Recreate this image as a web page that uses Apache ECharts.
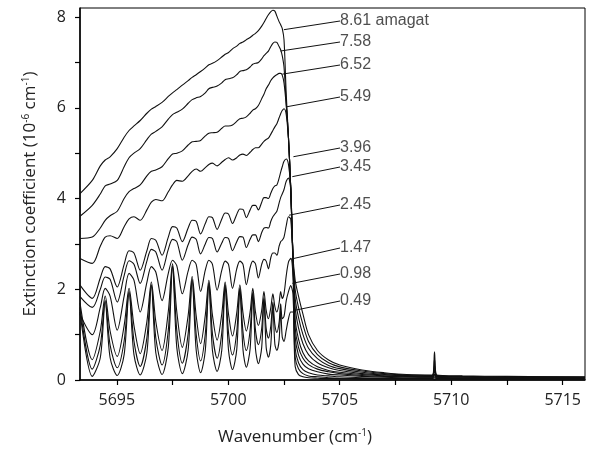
<!DOCTYPE html>
<html><head><meta charset="utf-8">
<script src="https://cdn.jsdelivr.net/npm/echarts@6/dist/echarts.min.js"></script>
<style>html,body{margin:0;padding:0;background:#fff}#c{width:590px;height:449px}</style>
</head><body><div id="c"></div>
<script>
// Wavenumber sample positions (cm-1), shared by all curves
const WAVENUMBER = [5693.35,
5693.9, 5694.26, 5694.48, 5694.70,
5695.02, 5695.33, 5695.55, 5695.77,
5696.05, 5696.35, 5696.55, 5696.75,
5697.03, 5697.31, 5697.5, 5697.69,
5697.94, 5698.2, 5698.38, 5698.56,
5698.76, 5698.97, 5699.13, 5699.29,
5699.5, 5699.71, 5699.86, 5700.01,
5700.19, 5700.38, 5700.52, 5700.66,
5700.81, 5700.98, 5701.1, 5701.22,
5701.35, 5701.5, 5701.6, 5701.7,
5701.8, 5701.91, 5702.0, 5702.09,
5702.18, 5702.28, 5702.35, 5702.42,
5702.5, 5702.6, 5702.7, 5702.8, 5702.9,
5703.0, 5703.15, 5703.35, 5703.6, 5704.0, 5704.5, 5705.0, 5706.0, 5707.0, 5708.0, 5709.15, 5709.25, 5709.35, 5710.5, 5712.5, 5714.5, 5716.0];

// Extinction coefficient (1e-6 cm-1) per density (amagat)
const S861 = [4.11,
4.4, 4.72, 4.85, 4.92,
5.1, 5.35, 5.5, 5.6,
5.72, 5.88, 5.97, 6.03,
6.12, 6.25, 6.33, 6.4,
6.5, 6.6, 6.67, 6.73,
6.8, 6.88, 6.95, 6.98,
7.04, 7.12, 7.18, 7.22,
7.3, 7.36, 7.42, 7.45,
7.5, 7.55, 7.6, 7.64,
7.7, 7.8, 7.88, 7.97,
8.05, 8.12, 8.15, 8.13,
8.02, 7.9, 7.83, 7.75,
7.5, 6.3, 5.35, 4.25, 2.75,
2.2, 1.85, 1.45, 1.0, 0.65, 0.44, 0.33, 0.22, 0.16, 0.12, 0.11, 0.62, 0.11, 0.09, 0.08, 0.07, 0.07];
const S758 = [3.61,
3.85, 4.1, 4.28, 4.32,
4.4, 4.7, 4.9, 5.0,
5.1, 5.3, 5.42, 5.48,
5.58, 5.75, 5.85, 5.9,
5.97, 6.1, 6.18, 6.22,
6.25, 6.33, 6.42, 6.45,
6.48, 6.55, 6.62, 6.64,
6.66, 6.73, 6.8, 6.82,
6.84, 6.9, 6.96, 6.98,
7.0, 7.08, 7.15, 7.2,
7.25, 7.35, 7.42, 7.45,
7.44, 7.35, 7.28, 7.15,
6.9, 6.1, 5.35, 4.25, 2.75,
2.0, 1.6, 1.22, 0.85, 0.56, 0.38, 0.29, 0.2, 0.14, 0.11, 0.1, 0.45, 0.1, 0.08, 0.07, 0.07, 0.06];
const S652 = [3.12,
3.15, 3.35, 3.52, 3.62,
3.72, 4.0, 4.15, 4.22,
4.3, 4.5, 4.6, 4.63,
4.7, 4.88, 4.98, 5.0,
5.05, 5.18, 5.25, 5.26,
5.28, 5.38, 5.44, 5.45,
5.46, 5.55, 5.6, 5.6,
5.62, 5.7, 5.76, 5.77,
5.8, 5.88, 5.95, 5.98,
6.05, 6.2, 6.3, 6.42,
6.5, 6.6, 6.66, 6.7,
6.73, 6.76, 6.76, 6.72,
6.55, 6.05, 5.35, 4.25, 2.75,
1.8, 1.38, 1.0, 0.7, 0.47, 0.32, 0.25, 0.17, 0.12, 0.1, 0.09, 0.3, 0.09, 0.07, 0.06, 0.06, 0.06];
const S549 = [2.68,
2.57, 2.95, 3.15, 3.18,
3.12, 3.38, 3.55, 3.6,
3.52, 3.75, 3.92, 3.98,
3.95, 4.15, 4.3, 4.4,
4.38, 4.5, 4.6, 4.65,
4.6, 4.68, 4.75, 4.78,
4.72, 4.8, 4.86, 4.9,
4.85, 4.9, 4.96, 4.98,
4.95, 5.02, 5.08, 5.12,
5.12, 5.2, 5.26, 5.3,
5.33, 5.42, 5.5, 5.58,
5.65, 5.78, 5.87, 5.94,
5.98, 5.85, 5.3, 4.25, 2.75,
1.6, 1.15, 0.8, 0.56, 0.38, 0.27, 0.21, 0.14, 0.11, 0.09, 0.08, 0.2, 0.08, 0.07, 0.06, 0.05, 0.05];
const S396 = [2.09,
1.8, 2.25, 2.5, 2.45,
2.05, 2.55, 2.85, 2.8,
2.42, 2.85, 3.12, 3.08,
2.75, 3.15, 3.38, 3.35,
3.05, 3.35, 3.52, 3.5,
3.22, 3.45, 3.6, 3.58,
3.32, 3.55, 3.68, 3.66,
3.45, 3.65, 3.77, 3.76,
3.58, 3.75, 3.85, 3.85,
3.75, 3.92, 4.02, 4.02,
4.0, 4.12, 4.22, 4.28,
4.3, 4.45, 4.58, 4.7,
4.82, 4.87, 4.75, 4.25, 2.72,
1.35, 0.9, 0.6, 0.42, 0.29, 0.21, 0.17, 0.12, 0.09, 0.08, 0.07, 0.13, 0.07, 0.06, 0.05, 0.05, 0.05];
const S345 = [1.84,
1.6, 2.0, 2.27, 2.22,
1.72, 2.3, 2.63, 2.55,
2.13, 2.62, 2.88, 2.82,
2.42, 2.88, 3.1, 3.05,
2.64, 2.98, 3.15, 3.1,
2.78, 3.0, 3.14, 3.12,
2.82, 3.02, 3.14, 3.12,
2.85, 3.05, 3.16, 3.15,
2.92, 3.1, 3.2, 3.2,
3.05, 3.25, 3.35, 3.36,
3.35, 3.5, 3.6, 3.66,
3.72, 3.9, 4.02, 4.1,
4.2, 4.38, 4.45, 4.2, 2.7,
1.15, 0.72, 0.48, 0.34, 0.24, 0.18, 0.14, 0.1, 0.08, 0.07, 0.06, 0.1, 0.06, 0.05, 0.05, 0.04, 0.04];
const S245 = [1.45,
1.0, 1.6, 2.02, 1.85,
1.1, 1.85, 2.35, 2.2,
1.5, 2.15, 2.5, 2.38,
1.75, 2.35, 2.64, 2.52,
1.9, 2.4, 2.64, 2.55,
1.95, 2.42, 2.64, 2.55,
1.98, 2.42, 2.62, 2.55,
2.02, 2.45, 2.62, 2.55,
2.1, 2.48, 2.62, 2.56,
2.25, 2.55, 2.66, 2.62,
2.45, 2.7, 2.8, 2.8,
2.75, 2.95, 3.05, 3.08,
3.15, 3.4, 3.6, 3.55, 2.65,
0.95, 0.55, 0.35, 0.25, 0.18, 0.13, 0.11, 0.08, 0.06, 0.05, 0.05, 0.07, 0.05, 0.04, 0.04, 0.04, 0.04];
const S147 = [1.7,
0.45, 1.08, 1.85, 1.08,
0.52, 1.2, 2.02, 1.2,
0.58, 1.29, 2.16, 1.29,
0.65, 1.51, 2.56, 1.51,
0.72, 1.42, 2.28, 1.42,
0.8, 1.43, 2.2, 1.43,
0.88, 1.46, 2.16, 1.46,
0.97, 1.48, 2.1, 1.48,
1.08, 1.5, 2.02, 1.5,
1.2, 1.54, 1.95, 1.54,
1.35, 1.6, 1.9, 1.62,
1.5, 1.7, 1.95, 1.8,
1.9, 2.3, 2.6, 2.68, 2.3,
0.7, 0.38, 0.23, 0.16, 0.11, 0.09, 0.07, 0.05, 0.04, 0.04, 0.04, 0.05, 0.04, 0.03, 0.03, 0.03, 0.03];
const S098 = [1.6,
0.24, 0.77, 1.75, 0.77,
0.27, 0.86, 1.95, 0.86,
0.3, 0.93, 2.1, 0.93,
0.33, 1.1, 2.52, 1.1,
0.37, 1.02, 2.22, 1.02,
0.42, 1.02, 2.14, 1.02,
0.48, 1.05, 2.1, 1.05,
0.55, 1.06, 2.02, 1.06,
0.65, 1.1, 1.93, 1.1,
0.78, 1.14, 1.82, 1.14,
0.92, 1.2, 1.72, 1.22,
1.05, 1.27, 1.68, 1.35,
1.4, 1.75, 1.95, 2.08, 1.9,
0.5, 0.25, 0.14, 0.09, 0.07, 0.05, 0.04, 0.03, 0.03, 0.03, 0.03, 0.02, 0.03, 0.02, 0.02, 0.02, 0.02];
const S049 = [1.5,
0.08, 0.49, 1.72, 0.49,
0.1, 0.56, 1.92, 0.56,
0.11, 0.6, 2.08, 0.6,
0.12, 0.72, 2.5, 0.72,
0.14, 0.66, 2.2, 0.66,
0.16, 0.65, 2.12, 0.65,
0.19, 0.66, 2.08, 0.66,
0.23, 0.67, 2.0, 0.67,
0.28, 0.69, 1.9, 0.69,
0.36, 0.72, 1.78, 0.72,
0.5, 0.79, 1.65, 0.79,
0.65, 0.88, 1.55, 0.95,
0.85, 1.1, 1.35, 1.5, 1.5,
0.3, 0.12, 0.07, 0.05, 0.04, 0.03, 0.03, 0.02, 0.02, 0.02, 0.02, 0.0, 0.02, 0.02, 0.02, 0.02, 0.02];

const CURVES = [S861, S758, S652, S549, S396, S345, S245, S147, S098, S049];
const DENSITY_LABELS = ['8.61 amagat', '7.58', '6.52', '5.49', '3.96', '3.45', '2.45', '1.47', '0.98', '0.49'];
// points on the curves where the label leader lines start
const ANCHOR_X = [5702.47, 5702.32, 5702.4, 5702.59, 5702.9, 5702.85, 5702.7, 5702.77, 5702.85, 5702.92];
const ANCHOR_Y = [7.72, 7.25, 6.74, 6.02, 4.92, 4.48, 3.63, 2.66, 2.13, 1.53];

const X_TICKS = [5695, 5697.5, 5700, 5702.5, 5705, 5707.5, 5710, 5712.5, 5715];
const X_TICK_LABELS = [5695, 5700, 5705, 5710, 5715];
const Y_TICKS = [0, 1, 2, 3, 4, 5, 6, 7, 8];
const Y_TICK_LABELS = [0, 2, 4, 6, 8];

// layout: pixel rows of the density labels
const LABEL_ROWS = [21, 42, 65, 97, 148, 167, 205, 248, 274, 301];

const chart = echarts.init(document.getElementById('c'), null, {renderer: 'canvas'});
const axisFont = {fontFamily: 'Open Sans', fontSize: 16, color: '#222'};
const supStyle = {fontFamily: 'Open Sans', fontSize: 10, color: '#222', padding: [0, 0, 9, 0]};

const series = CURVES.map(arr => ({
  type: 'line',
  data: WAVENUMBER.map((x, i) => [x, arr[i]]),
  symbol: 'none',
  smooth: 0.3,
  lineStyle: {color: '#111', width: 1.1},
  silent: true
}));
series.push({
  type: 'scatter',
  data: ANCHOR_X.map((x, i) => [x, ANCHOR_Y[i]]),
  symbolSize: 1,
  itemStyle: {color: 'rgba(0,0,0,0)'},
  label: {
    show: true,
    formatter: p => DENSITY_LABELS[p.dataIndex],
    fontFamily: 'Liberation Sans', fontSize: 16, color: '#222',
    padding: [0, 0, 0, 3]
  },
  labelLine: {show: true, lineStyle: {color: '#111', width: 1}},
  labelLayout: p => ({x: 337, y: LABEL_ROWS[p.dataIndex], align: 'left', verticalAlign: 'middle', moveOverlap: null}),
  z: 5
});

chart.setOption({
  animation: false,
  backgroundColor: '#fff',
  title: {
    text: 'Wavenumber (cm{sup|-1})',
    left: 'center', top: 423,
    textStyle: {fontFamily: 'Open Sans', fontSize: 17, fontWeight: 'normal', color: '#222', rich: {sup: supStyle}}
  },
  grid: {left: 80, right: 5, top: 8, bottom: 69, containLabel: false, outerBoundsMode: 'none',
         show: true, borderColor: '#000', borderWidth: 1},
  xAxis: {
    type: 'value', min: 5693.35, max: 5716,
    axisLine: {show: true, onZero: false, lineStyle: {color: '#000', width: 1.5}},
    axisTick: {show: true, inside: false, length: 5, customValues: X_TICKS, lineStyle: {color: '#000', width: 1.2}},
    axisLabel: Object.assign({customValues: X_TICK_LABELS, margin: 12, formatter: v => String(v)}, axisFont),
    splitLine: {show: false}
  },
  yAxis: {
    type: 'value', min: 0, max: 8.2,
    name: 'Extinction coefficient (10{sup|-6} cm{sup|-1})',
    nameLocation: 'middle', nameGap: 40, nameRotate: 90,
    nameTextStyle: {fontFamily: 'Open Sans', fontSize: 17, color: '#222', rich: {sup: supStyle}},
    axisLine: {show: true, lineStyle: {color: '#000', width: 1.5}},
    axisTick: {show: true, inside: false, length: 5, customValues: Y_TICKS, lineStyle: {color: '#000', width: 1.2}},
    axisLabel: Object.assign({customValues: Y_TICK_LABELS, margin: 14, formatter: v => String(v)}, axisFont),
    splitLine: {show: false}
  },
  series: series
});
</script></body></html>
